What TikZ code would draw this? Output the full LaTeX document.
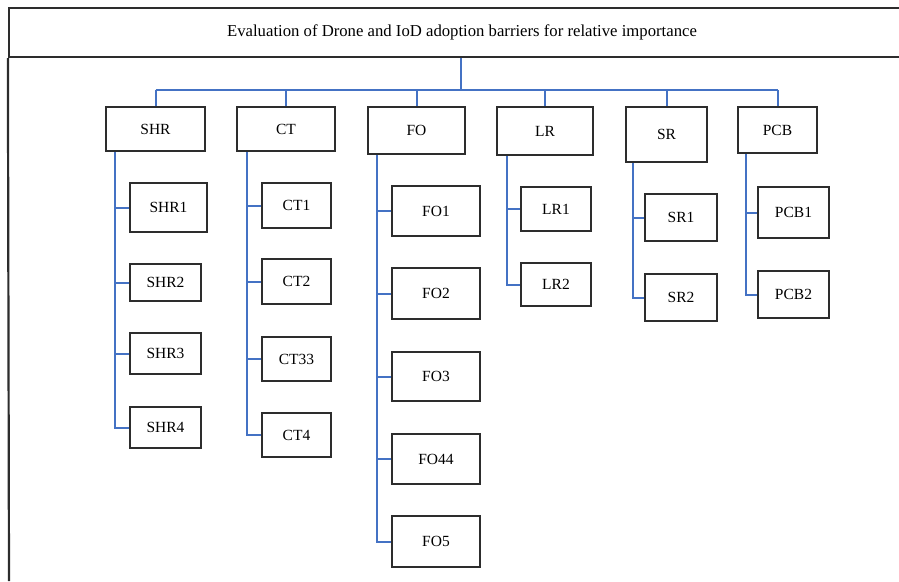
\documentclass[tikz,border=0pt]{standalone}
\usepackage{fontspec}
\setmainfont{Liberation Serif}
\usepackage{xcolor}
\usetikzlibrary{calc}

\definecolor{linkblue}{RGB}{68,114,196}
\definecolor{boxgray}{RGB}{45,45,45}

\tikzset{
  box/.style={draw=boxgray, line width=2.2pt, inner sep=0pt, font=\fontsize{15.5}{18}\selectfont},
  frame/.style={draw=boxgray, line width=2.2pt},
  link/.style={draw=linkblue, line width=2pt},
}

\begin{document}
\begin{tikzpicture}[x=1pt, y=-1pt]
      \useasboundingbox (0,0) rectangle (899,581);

      \node[box, minimum width=906pt, minimum height=49pt, font=\fontsize{16.7}{20}\selectfont] (title) at (462,32.5) {Evaluation of Drone and IoD adoption barriers for relative importance};
      \coordinate (corner) at (9,581);
      \draw[frame] (title.south west) -- (corner);

      % barrier groups
      \foreach \n/\x/\y/\w/\h in {SHR/155.5/129/99/44, CT/286/129/98/44, FO/416.5/130.5/97/47, LR/545/131/96/48, SR/666.5/134.5/81/55, PCB/777.5/130/79/46}
      \node[box, minimum width=\w pt, minimum height=\h pt] (\n) at (\x,\y) {\n};

      % sub-barriers
      \foreach \n/\x/\y/\w/\h in {SHR1/168.5/207.5/77/49, SHR2/165.5/282.5/71/37, SHR3/165.5/353.5/71/41, SHR4/165.5/427.5/71/41,
                                  CT1/296.5/205.5/69/45, CT2/296.5/281.5/69/45, CT33/296.5/359/69/44, CT4/296.5/435/69/44,
                                  FO1/436/211/88/50, FO2/436/293.5/88/51, FO3/436/376.5/88/49, FO44/436/459/88/50, FO5/436/541.5/88/51,
                                  LR1/556/209/70/44, LR2/556/284.5/70/43,
                                  SR1/681/217.5/72/47, SR2/681/297.5/72/47,
                                  PCB1/793.5/212.5/71/51, PCB2/793.5/294.5/71/47}
      \node[box, minimum width=\w pt, minimum height=\h pt] (\n) at (\x,\y) {\n};

      \coordinate (bar) at (461,90);
      \draw[link] (title.south -| bar) -- (bar);
      \draw[link] (bar -| SHR.north) -- (bar -| PCB.north);
      \foreach \n in {SHR, CT, FO, LR, SR, PCB}
      \draw[link] (bar -| \n.north) -- (\n.north);

      \foreach \p/\o/\kids in {SHR/10/{SHR1,SHR2,SHR3,SHR4}, CT/11/{CT1,CT2,CT33,CT4}, FO/10/{FO1,FO2,FO3,FO44,FO5},
                               LR/11/{LR1,LR2}, SR/8/{SR1,SR2}, PCB/9/{PCB1,PCB2}}
      \foreach \c in \kids
      \draw[link] ([xshift=\o pt]\p.south west) |- (\c.west);
    \end{tikzpicture}
\end{document}
